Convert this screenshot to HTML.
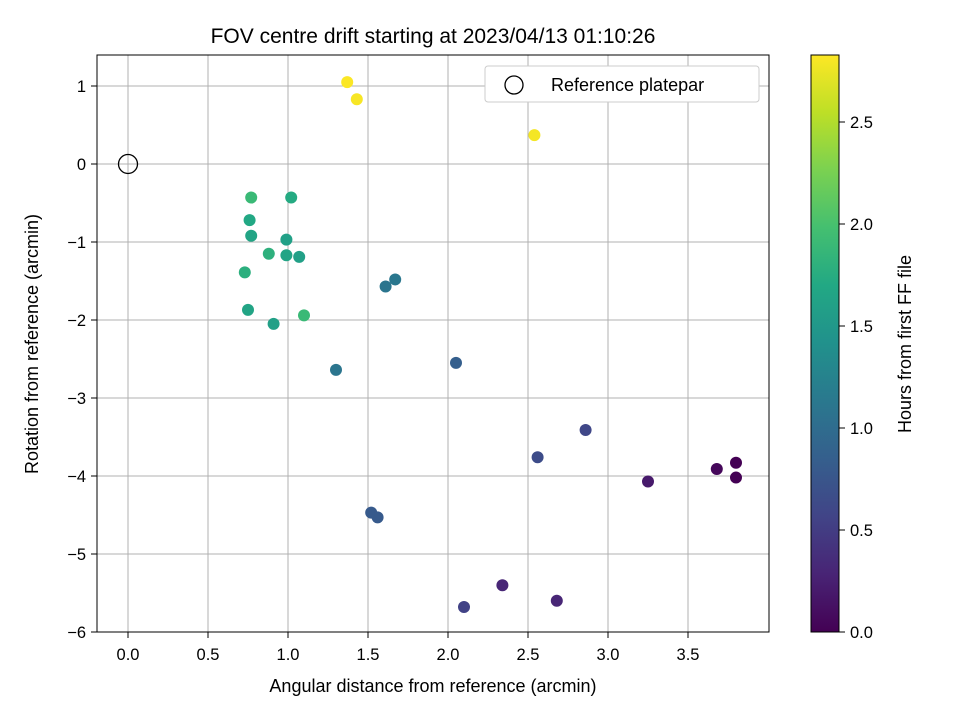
<!DOCTYPE html>
<html><head><meta charset="utf-8"><style>
body{margin:0;background:#fff;font-family:"Liberation Sans","DejaVu Sans",sans-serif}
</style></head><body>
<svg id="chart" width="960" height="720" xmlns="http://www.w3.org/2000/svg">
<defs><linearGradient id="vir" x1="0" y1="1" x2="0" y2="0">
<stop offset="0" stop-color="#440154"/><stop offset="0.1" stop-color="#482475"/><stop offset="0.2" stop-color="#414487"/><stop offset="0.3" stop-color="#355f8d"/><stop offset="0.4" stop-color="#2a788e"/><stop offset="0.5" stop-color="#21918c"/><stop offset="0.6" stop-color="#22a884"/><stop offset="0.7" stop-color="#44bf70"/><stop offset="0.8" stop-color="#7ad151"/><stop offset="0.9" stop-color="#bddf26"/><stop offset="1" stop-color="#fde725"/>
</linearGradient></defs>
<text x="433" y="43" font-size="21" text-anchor="middle">FOV centre drift starting at 2023/04/13 01:10:26</text>
<g id="grid"></g><g id="ticks"></g><g id="pts"></g>
<rect x="97" y="55" width="672" height="577" fill="none" stroke="#000"/>
<text x="433" y="692" font-size="18" text-anchor="middle">Angular distance from reference (arcmin)</text>
<text transform="translate(38,344) rotate(-90)" font-size="18" text-anchor="middle">Rotation from reference (arcmin)</text>
<g>
<rect x="485" y="66" width="274" height="36" rx="3" fill="#fff" stroke="#ccc"/>
<circle cx="514" cy="85" r="9" fill="none" stroke="#000" stroke-width="1.3"/>
<text x="551" y="91" font-size="18">Reference platepar</text>
</g>
<circle cx="128" cy="164" r="9.5" fill="none" stroke="#000" stroke-width="1.3"/>
<rect x="811" y="55" width="28" height="577" fill="url(#vir)" stroke="#000"/>
<g id="cbt"></g>
<text transform="translate(911,344) rotate(-90)" font-size="18" text-anchor="middle">Hours from first FF file</text>
</svg>
<script>
const xs=[1.37,1.43,2.54,0.77,1.02,0.76,0.77,0.99,0.99,1.07,0.88,0.73,0.75,0.91,1.10,1.61,1.67,1.30,2.05,2.86,2.56,1.52,1.56,2.34,2.10,2.68,3.25,3.68,3.80,3.80];
const ys=[1.05,0.83,0.37,-0.43,-0.43,-0.72,-0.92,-0.97,-1.17,-1.19,-1.15,-1.39,-1.87,-2.05,-1.94,-1.57,-1.48,-2.64,-2.55,-3.41,-3.76,-4.47,-4.53,-5.40,-5.68,-5.60,-4.07,-3.91,-3.83,-4.02];
const hours=[2.82,2.8,2.79,1.9,1.72,1.7,1.65,1.6,1.65,1.6,1.8,1.78,1.65,1.6,1.9,1.1,1.12,1.1,0.85,0.6,0.65,0.8,0.8,0.3,0.55,0.3,0.2,0.05,0.0,0.0];
const xTicks=[0,0.5,1,1.5,2,2.5,3,3.5];
const yTicks=[1,0,-1,-2,-3,-4,-5,-6];
const cTicks=[0,0.5,1,1.5,2,2.5];
const sx=v=>128+v*160, sy=v=>164-v*78, sc=v=>632-v*204;
const stops=["#440154","#482475","#414487","#355f8d","#2a788e","#21918c","#22a884","#44bf70","#7ad151","#bddf26","#fde725"];
function hx(h){return [1,3,5].map(i=>parseInt(h.substr(i,2),16));}
function vir(t){t=Math.max(0,Math.min(1,t))*10;const i=Math.min(9,Math.floor(t)),f=t-i;const a=hx(stops[i]),b=hx(stops[i+1]);return "rgb("+a.map((v,k)=>Math.round(v+(b[k]-v)*f)).join(",")+")";}
const NS="http://www.w3.org/2000/svg";
function mk(tag,at,parent,txt){const e=document.createElementNS(NS,tag);for(const k in at)e.setAttribute(k,at[k]);if(txt!==undefined)e.textContent=txt;document.getElementById(parent).appendChild(e);return e;}
const fmt=v=>(v<0?"\u2212":"")+Math.abs(v);
xTicks.forEach(v=>{const x=sx(v);
const g=mk("line",{x1:x,x2:x,y1:55,y2:632,stroke:"#b0b0b0","stroke-width":1},"grid");


mk("line",{x1:x,x2:x,y1:632,y2:638,stroke:"#000"},"ticks");
const t=mk("text",{x:x,y:660,"font-size":"16.5","text-anchor":"middle"},"ticks",v.toFixed(1));

});
yTicks.forEach(v=>{const y=sy(v);
const g=mk("line",{x1:97,x2:769,y1:y,y2:y,stroke:"#b0b0b0","stroke-width":1},"grid");


mk("line",{x1:91,x2:97,y1:y,y2:y,stroke:"#000"},"ticks");
const t=mk("text",{x:86,y:y+6,"font-size":"16.5","text-anchor":"end"},"ticks",fmt(v));

});
cTicks.forEach(v=>{const y=sc(v);
mk("line",{x1:839,x2:845,y1:y,y2:y,stroke:"#000"},"cbt");
const t=mk("text",{x:850,y:y+6,"font-size":"16.5"},"cbt",v.toFixed(1));

});
xs.forEach((v,i)=>{const c=mk("circle",{cx:sx(v),cy:sy(ys[i]),r:6,fill:vir(hours[i]/2.828)},"pts");

});
</script>
</body></html>
